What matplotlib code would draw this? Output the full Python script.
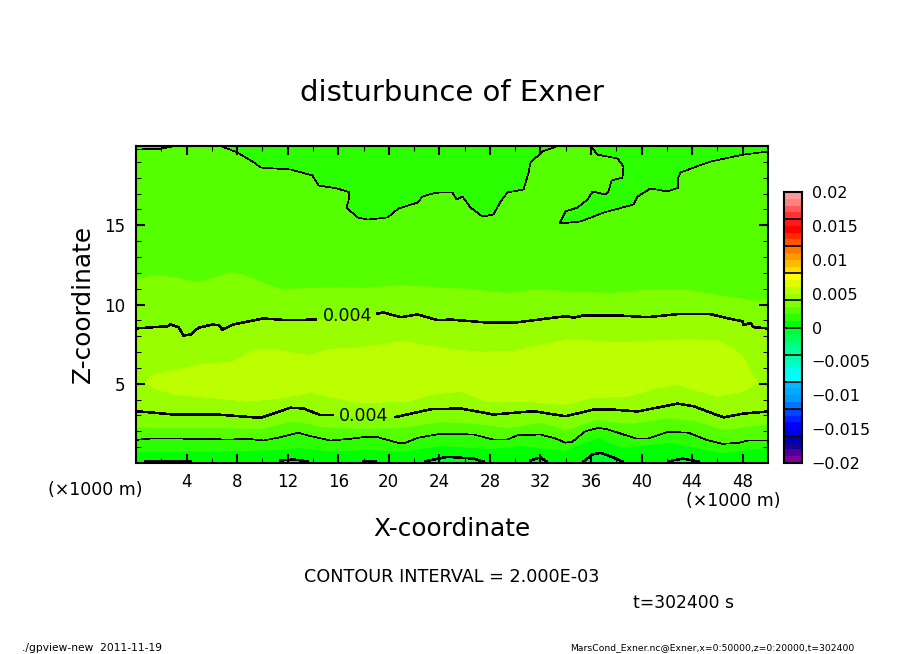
import matplotlib
matplotlib.use("Agg")
import matplotlib.pyplot as plt
import numpy as np
from matplotlib.colors import BoundaryNorm, ListedColormap

# contour lines, x and z in km
upper_002_x = [0.0, 0.1, 1.94, 2.97, 3.5, 6.7, 8.03, 9.45, 9.85, 12.22, 13.96, 14.44, 15.94, 16.89, 16.81, 16.65,
               17.52, 18.31, 19.9, 20.77, 22.27, 22.67, 23.46, 24.09, 25.04, 25.36, 25.83, 26.46, 27.41, 28.28,
               28.84, 29.39, 30.66, 31.06, 31.21, 32.16, 33.35, 35.96, 36.51, 38.09, 38.57, 38.49, 37.62, 37.38,
               37.14, 36.12, 35.72, 34.93, 33.98, 33.5, 35.17, 36.99, 39.36, 39.68, 40.7, 42.05, 42.92, 42.84,
               43.08, 44.11, 45.45, 48.06, 50.0]
upper_002_z = [19.78, 19.78, 19.82, 19.99, 20.0, 20.0, 19.59, 18.9, 18.64, 18.52, 18.14, 17.51, 17.32, 17.07, 16.5,
               16.12, 15.49, 15.36, 15.49, 16.06, 16.43, 16.81, 17.0, 17.07, 17.07, 16.62, 16.81, 16.12, 15.55, 15.68,
               16.5, 17.07, 17.26, 18.33, 18.96, 19.65, 20.0, 20.0, 19.46, 19.21, 18.71, 18.01, 17.82, 17.13,
               16.94, 17.13, 16.62, 16.12, 15.87, 15.11, 15.24, 15.8, 16.31, 16.81, 17.32, 17.13, 17.38, 17.89,
               18.33, 18.64, 19.02, 19.46, 19.65]

upper_003_x = [0.0, 1.38, 2.97, 4.87, 6.13, 7.48, 8.5, 10.09, 11.43, 13.57, 15.94, 18.0, 20.69, 23.3, 26.46, 29.39,
               31.76, 34.14, 37.54, 40.7, 43.31, 46.0, 49.16, 50.0]
upper_003_z = [11.62, 11.89, 11.76, 11.45, 11.76, 12.08, 11.89, 11.39, 11.01, 11.07, 11.14, 11.07, 11.26, 11.14,
               11.01, 10.76, 11.01, 10.88, 10.76, 11.01, 11.01, 10.63, 10.25, 10.38]

# nan marks the gap left for the contour label
upper_004_x = [0.0, 2.49, 2.73, 3.36, 3.76, 4.31, 4.94, 6.05, 6.53, 6.84, 7.71, 10.09, 11.99, 14.2, 16.7, 19.11,
               19.58, 20.93, 22.27, 23.85, 24.88, 27.49, 30.18, 33.35, 34.14, 34.61, 35.4, 38.09, 40.47, 43.08,
               45.45, 47.27, 47.98, 48.06, 48.62, 48.85, 50.0]
upper_004_z = [8.49, 8.63, 8.74, 8.57, 8.04, 8.11, 8.53, 8.74, 8.69, 8.42, 8.74, 9.12, 9.01, 9.05, np.nan, 9.43,
               9.5, 9.2, 9.37, 9.01, 9.05, 8.88, 8.88, 9.2, 9.26, 9.16, 9.31, 9.31, 9.2, 9.41,
               9.39, 9.05, 8.95, 8.69, 8.85, 8.57, 8.49]

patch_005_x = [0.75, 1.15, 2.18, 3.52, 5.1, 7.48, 8.5, 9.3, 10.88, 13.57, 15.39, 18.0, 21.16, 23.3, 24.88, 27.49,
               29.87, 32.24, 34.38, 38.09, 43.31, 46.0, 47.27, 48.06, 48.62, 49.16, 48.06, 46.0, 42.84, 41.26,
               38.88, 36.19, 33.82, 30.97, 27.81, 25.67, 23.3, 21.48, 17.52, 13.81, 11.67, 8.82, 4.87, 2.97, 1.38]
patch_005_z = [5.06, 5.48, 5.71, 5.9, 6.21, 6.36, 6.74, 7.16, 7.16, 6.78, 7.16, 7.29, 7.68, 7.37, 7.16, 6.99,
               7.05, 7.48, 7.79, 7.58, 7.79, 7.73, 7.16, 6.66, 5.71, 5.08, 4.53, 4.21, 4.95, 4.76,
               4.21, 4.13, 3.69, 3.9, 3.9, 4.53, 4.32, 3.88, 3.82, 4.45, 4.13, 3.9, 4.21, 4.32, 4.76]

lower_004_x = [0.0, 2.97, 6.44, 9.85, 12.22, 13.25, 14.6, 15.55, 18.0, 20.53, 23.3, 25.67, 28.28, 31.44, 33.98,
               36.19, 37.77, 39.68, 42.84, 44.11, 46.48, 48.06, 50.0]
lower_004_z = [3.27, 3.06, 3.06, 2.85, 3.49, 3.44, 3.02, 3.02, np.nan, 2.9, 3.39, 3.44, 3.06, 3.27, 2.95,
               3.37, 3.37, 3.25, 3.75, 3.58, 2.88, 3.12, 3.25]

lower_003_x = [0.0, 2.97, 6.44, 9.85, 12.22, 13.25, 14.6, 17.76, 20.93, 24.09, 26.7, 29.39, 32.0, 33.98, 36.35,
               39.15, 42.13, 44.11, 46.48, 48.2, 50.0]
lower_003_z = [2.27, 2.26, 2.24, 2.18, 2.62, 2.56, 2.3, 2.18, 2.24, 2.62, 2.49, 2.24, 2.56, 2.11, 2.74,
               2.49, 2.87, 2.68, 2.11, 2.3, 2.49]

lower_002_x = [0.0, 1.15, 3.52, 7.48, 8.82, 10.09, 11.43, 12.78, 13.81, 15.39, 16.97, 18.31, 19.11, 20.69, 21.32,
               22.27, 24.09, 26.7, 28.28, 29.39, 30.18, 32.0, 33.19, 33.98, 34.53, 35.56, 36.59, 37.38, 39.52,
               40.55, 42.13, 43.72, 45.06, 46.4, 47.67, 48.46, 50.0]
lower_002_z = [1.46, 1.54, 1.54, 1.48, 1.53, 1.42, 1.63, 1.91, 1.7, 1.42, 1.53, 1.66, 1.63, 1.28, 1.28,
               1.59, 1.84, 1.8, 1.48, 1.48, 1.75, 1.8, 1.55, 1.28, 1.35, 2.01, 2.22, 2.11, 1.55,
               1.55, 1.97, 1.91, 1.48, 1.21, 1.27, 1.42, 1.42]

lower_001_x = [0.0, 7.48, 11.43, 12.78, 15.39, 18.31, 20.93, 24.09, 28.09, 30.4, 33.82, 36.51, 38.49, 42.13, 46.4, 50.0]
lower_001_z = [0.74, 0.76, 0.85, 0.98, 0.76, 0.85, 0.73, 1.1, 0.91, 1.1, 0.79, 1.61, 0.98, 1.29, 0.66, 0.98]

# zero contour only pokes out along the ground in short pieces
zero_pieces_x = [[0.75, 2.33, 4.3], [11.43, 12.46, 13.57], [18.0, 18.95], [22.9, 24.64, 26.7, 27.49],
                 [31.2, 32.0, 32.48], [35.4, 36.12, 36.75, 37.7, 38.49], [42.13, 43.24, 44.5]]
zero_pieces_z = [[0.1, 0.13, 0.1], [0.16, 0.22, 0.11], [0.11, 0.1], [0.11, 0.39, 0.28, 0.09],
                 [0.16, 0.35, 0.09], [0.09, 0.54, 0.64, 0.37, 0.09], [0.11, 0.28, 0.09]]

# one colour per 0.001 step, from -0.02 up to 0.02
level_colors = ["#800099", "#4d0099", "#1a0099", "#0000aa",
                "#0000dd", "#0000ff", "#0022ff", "#0044ff",
                "#0077ff", "#0099ff", "#00aaff", "#00bbff",
                "#00ffff", "#00ffee", "#00ffcc", "#00ffaa",
                "#00ff99", "#00ff80", "#00ff55", "#00ff2b",
                "#00ff00", "#2bff00", "#55ff00", "#80ff00",
                "#99ff00", "#bbff00", "#ddff00", "#ffff00",
                "#ffdd00", "#ffbb00", "#ff9900", "#ff7700",
                "#ff5500", "#ff2b00", "#ff0000", "#ff1a1a",
                "#ff3333", "#ff5959", "#ff8080", "#ff9999"]
level_edges = np.linspace(-0.02, 0.02, 41)
bar_separators = [-0.016, -0.012, -0.008, -0.004, 0, 0.004, 0.008, 0.012, 0.016]
bar_ticks = [-0.02, -0.015, -0.01, -0.005, 0, 0.005, 0.01, 0.015, 0.02]
bar_tick_labels = ["\u22120.02", "\u22120.015", "\u22120.01", "\u22120.005", "0", "0.005", "0.01", "0.015", "0.02"]

x_major = [4, 8, 12, 16, 20, 24, 28, 32, 36, 40, 44, 48]
z_major = [5, 10, 15]

W, H = 904, 654


def band_color(value):
    return level_colors[int(round((value + 0.02) / 0.001))]


def put(fig, px, py, s, **kw):
    # place figure text by pixel position
    fig.text(px / W, 1 - py / H, s, ha=kw.pop("ha", "center"), va="center", color="black", **kw)


fig = plt.figure(figsize=(W / 100, H / 100), dpi=100)
ax = fig.add_axes([136 / W, 1 - 463 / H, 632 / W, 317 / H])
ax.set_xlim(0, 50)
ax.set_ylim(0, 20)
ax.set_facecolor(band_color(0.0))


def fill_above(xs, zs, value):
    xs = np.array(xs, dtype=float)
    zs = np.array(zs, dtype=float)
    ok = ~np.isnan(zs)
    ax.fill_between(xs[ok], zs[ok], 20, color=band_color(value), lw=0, antialiased=False)


fill_above(lower_001_x, lower_001_z, 0.001)
fill_above(lower_002_x, lower_002_z, 0.002)
fill_above(lower_003_x, lower_003_z, 0.003)
fill_above(lower_004_x, lower_004_z, 0.004)
ax.fill(patch_005_x, patch_005_z, color=band_color(0.005), lw=0, antialiased=False)
fill_above(upper_004_x, upper_004_z, 0.003)
fill_above(upper_003_x, upper_003_z, 0.002)
ax.fill(upper_002_x + [50, 0], upper_002_z + [20, 20], color=band_color(0.001), lw=0, antialiased=False)

for xs, zs in zip(zero_pieces_x, zero_pieces_z):
    ax.fill(xs, zs, color=band_color(-0.001), lw=0, antialiased=False)
    ax.plot(xs, zs, color="black", lw=1.1, antialiased=False)

ax.plot(upper_002_x, upper_002_z, color="black", lw=0.5, antialiased=False)
ax.plot(lower_002_x, lower_002_z, color="black", lw=0.5, antialiased=False)
ax.plot(upper_004_x, upper_004_z, color="black", lw=1.1, antialiased=False)
ax.plot(lower_004_x, lower_004_z, color="black", lw=1.1, antialiased=False)

ax.text(16.73, 9.25, "0.004", ha="center", va="center", fontsize=12.5)
ax.text(18.0, 2.95, "0.004", ha="center", va="center", fontsize=12.5)

ax.set_xticks(x_major)
ax.set_xticklabels([str(v) for v in x_major], fontsize=12)
ax.set_xticks(np.arange(2, 50, 4), minor=True)
ax.set_yticks(z_major)
ax.set_yticklabels([str(v) for v in z_major], fontsize=12)
ax.set_yticks(np.arange(1, 20), minor=True)
ax.tick_params(which="major", direction="in", top=True, right=True, length=6.5, width=1.5)
ax.tick_params(which="minor", direction="in", top=True, right=True, length=3.5, width=0.75)
ax.tick_params(axis="x", which="major", pad=7)
ax.tick_params(axis="y", which="major", pad=8)
for spine in ax.spines.values():
    spine.set_linewidth(1.5)

# colour bar
cax = fig.add_axes([784 / W, 1 - 463 / H, 18 / W, 271 / H])
cmap = ListedColormap(level_colors)
norm = BoundaryNorm(level_edges, cmap.N)
cax.pcolormesh([0, 1], level_edges, np.array(level_edges[:-1] + 0.0005).reshape(-1, 1), cmap=cmap, norm=norm)
cax.hlines(bar_separators, 0, 1, color="black", lw=1.2)
cax.set_xticks([])
cax.yaxis.tick_right()
cax.set_yticks(bar_ticks)
cax.set_yticklabels(bar_tick_labels, fontsize=11.5)
cax.tick_params(length=0, pad=7)
for spine in cax.spines.values():
    spine.set_linewidth(1.5)

put(fig, 452, 93, "disturbunce of Exner", fontsize=21)
put(fig, 452, 529, "X-coordinate", fontsize=17.8)
put(fig, 83, 304, "Z-coordinate", fontsize=17.8, rotation=90)
put(fig, 95, 490, "(\u00d71000 m)", fontsize=12.5)
put(fig, 733, 501, "(\u00d71000 m)", fontsize=12.5)
put(fig, 452, 577, "CONTOUR INTERVAL = 2.000E-03", fontsize=12.7)
put(fig, 684, 603, "t=302400 s", fontsize=12.3)
put(fig, 22, 648, "./gpview-new  2011-11-19", ha="left", fontsize=7.7)
put(fig, 570, 648, "MarsCond_Exner.nc@Exner,x=0:50000,z=0:20000,t=302400", ha="left", fontsize=6.7)

fig.savefig("out.png", dpi=100)
plt.close(fig)
